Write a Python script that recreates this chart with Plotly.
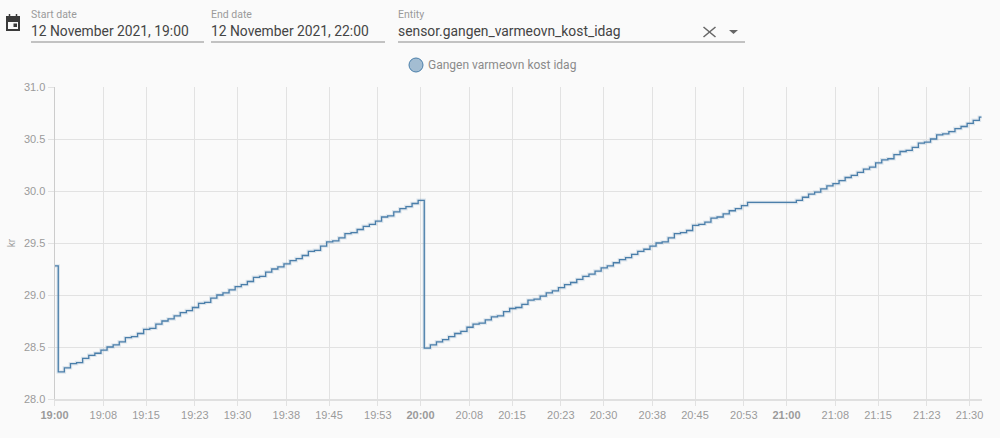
import pandas as pd
import plotly.graph_objects as go


WIDTH = 1000
HEIGHT = 438

# meter readings, one per minute from 19:00:37
VALUES = [
    28.26, 28.30, 28.34, 28.35, 28.39, 28.42, 28.44, 28.47, 28.50, 28.52,
    28.55, 28.59, 28.60, 28.63, 28.67, 28.68, 28.72, 28.75, 28.77, 28.80,
    28.83, 28.85, 28.88, 28.92, 28.93, 28.97, 29.00, 29.02, 29.05, 29.08,
    29.10, 29.13, 29.17, 29.18, 29.22, 29.25, 29.27, 29.30, 29.33, 29.35,
    29.38, 29.42, 29.43, 29.47, 29.51, 29.52, 29.55, 29.59, 29.60, 29.63,
    29.66, 29.68, 29.71, 29.75, 29.76, 29.80, 29.83, 29.85, 29.88, 29.91,
    28.49, 28.52, 28.55, 28.57, 28.60, 28.63, 28.65, 28.69, 28.72, 28.73,
    28.76, 28.79, 28.80, 28.84, 28.87, 28.88, 28.91, 28.95, 28.96, 28.99,
    29.02, 29.04, 29.07, 29.10, 29.12, 29.15, 29.18, 29.20, 29.23, 29.26,
    29.28, 29.31, 29.34, 29.36, 29.39, 29.42, 29.44, 29.47, 29.50, 29.51,
    29.55, 29.59, 29.60, 29.62, 29.67, 29.68, 29.70, 29.74, 29.75, 29.78,
    29.81, 29.83, 29.86, 29.89, 29.89, 29.89, 29.89, 29.89, 29.89, 29.89,
    29.89, 29.91, 29.94, 29.97, 29.99, 30.02, 30.05, 30.07, 30.10, 30.13,
    30.15, 30.18, 30.21, 30.23, 30.27, 30.30, 30.31, 30.35, 30.38, 30.39,
    30.42, 30.46, 30.47, 30.50, 30.54, 30.55, 30.57, 30.60, 30.62, 30.65,
    30.68, 30.71,
]
FIRST_VALUE = 29.28
FIRST_TIME = "2021-11-12 19:00:00"
STEP_START = "2021-11-12 19:00:37"
END_TIME = "2021-11-12 21:32:00"

TICK_LABELS = [
    "19:00", "19:08", "19:15", "19:23", "19:30", "19:38", "19:45", "19:53",
    "20:00", "20:08", "20:15", "20:23", "20:30", "20:38", "20:45", "20:53",
    "21:00", "21:08", "21:15", "21:23", "21:30",
]
Y_TICKS = [28.0, 28.5, 29.0, 29.5, 30.0, 30.5, 31.0]

LINE_COLOR = "#4b7faa"
HALO_COLOR = "rgba(75,127,170,0.16)"
GRID_COLOR = "#e2e2e2"
TICK_FONT_COLOR = "#9a9a9a"
BG_COLOR = "#fafafa"


def px(x):
    return x / WIDTH


def py(y):
    return 1 - y / HEIGHT


def label(fig, text, x, y, size, color, font="Roboto"):
    fig.add_annotation(
        x=px(x - 1),
        y=py(y),
        xref="paper",
        yref="paper",
        xanchor="left",
        yanchor="middle",
        text=text,
        showarrow=False,
        borderpad=0,
        font=dict(family=font, size=size, color=color),
    )


def hline(fig, x0, x1, y, color, width=1):
    fig.add_shape(
        type="line",
        xref="paper",
        yref="paper",
        x0=px(x0),
        x1=px(x1),
        y0=py(y),
        y1=py(y),
        line=dict(color=color, width=width),
    )


def draw_path(points, close=False):
    path = "M " + " L ".join(f"{px(x)} {py(y)}" for x, y in points)
    return path + (" Z" if close else "")


times = list(pd.date_range(STEP_START, periods=len(VALUES), freq="min"))
line_x = [pd.Timestamp(FIRST_TIME)] + times + [pd.Timestamp(END_TIME)]
line_y = [FIRST_VALUE] + VALUES + [VALUES[-1]]

fig = go.Figure()

# soft edge round the line
fig.add_trace(
    go.Scatter(
        x=line_x,
        y=line_y,
        mode="lines",
        line=dict(color=HALO_COLOR, width=3.5, shape="hv"),
        hoverinfo="skip",
        showlegend=False,
    )
)

fig.add_trace(
    go.Scatter(
        x=line_x,
        y=line_y,
        mode="lines",
        line=dict(color=LINE_COLOR, width=1.3, shape="hv"),
        name="Gangen varmeovn kost idag",
        showlegend=False,
    )
)

fig.update_layout(
    width=WIDTH,
    height=HEIGHT,
    margin=dict(l=0, r=0, t=0, b=0),
    paper_bgcolor=BG_COLOR,
    plot_bgcolor=BG_COLOR,
    xaxis=dict(
        automargin=False,
        domain=[px(54.5), px(981.7)],
        range=[FIRST_TIME, END_TIME],
        tickvals=[f"2021-11-12 {t}:00" for t in TICK_LABELS],
        ticktext=[
            f"<b>{t}</b>" if t.endswith(":00") else t
            for t in TICK_LABELS
        ],
        tickangle=0,
        ticks="outside",
        ticklen=5,
        tickcolor=GRID_COLOR,
        gridcolor=GRID_COLOR,
        showline=True,
        linecolor="#e0e0e0",
        linewidth=2,
        tickfont=dict(family="Liberation Sans", size=11, color=TICK_FONT_COLOR),
    ),
    yaxis=dict(
        automargin=False,
        domain=[py(399), py(87)],
        range=[28, 31],
        tickvals=Y_TICKS,
        tickformat=".1f",
        ticks="outside",
        ticklen=6,
        tickcolor=GRID_COLOR,
        gridcolor=GRID_COLOR,
        showline=True,
        linecolor="#cccccc",
        tickfont=dict(family="Liberation Sans", size=11, color=TICK_FONT_COLOR),
        title=dict(
            text="kr",
            standoff=6,
            font=dict(family="Liberation Sans", size=10, color=TICK_FONT_COLOR),
        ),
    ),
)

# date pickers and entity box above the chart
label(fig, "Start date", 31, 14, 10.5, "#9a9a9a")
label(fig, "12 November 2021, 19:00", 31, 31, 13.85, "#444444")
hline(fig, 31, 204, 42, "#8a8a8a")

label(fig, "End date", 211, 14, 10.5, "#9a9a9a")
label(fig, "12 November 2021, 22:00", 211, 31, 13.85, "#444444")
hline(fig, 211, 385, 42, "#8a8a8a")

label(fig, "Entity", 398, 14, 10.5, "#9a9a9a")
label(fig, "sensor.gangen_varmeovn_kost_idag", 398, 31, 13.85, "#444444")
hline(fig, 398, 745, 42, "#8a8a8a")

# clear button
for y0, y1 in [(27, 37), (37, 27)]:
    fig.add_shape(
        type="line",
        xref="paper",
        yref="paper",
        x0=px(703.5),
        x1=px(715.5),
        y0=py(y0),
        y1=py(y1),
        line=dict(color="#666666", width=1.5),
    )

# dropdown arrow
fig.add_shape(
    type="path",
    xref="paper",
    yref="paper",
    path=draw_path([(729, 30), (738, 30), (733.5, 34)], close=True),
    fillcolor="#666666",
    line=dict(width=0),
)

# calendar icon
fig.add_shape(
    type="path",
    xref="paper",
    yref="paper",
    path=draw_path([(7, 17), (19, 17), (19, 30), (7, 30)], close=True),
    line=dict(color="#3a3a3a", width=2),
)
hline(fig, 6, 20, 20, "#3a3a3a", width=4)
for x in [9.5, 16.5]:
    fig.add_shape(
        type="line",
        xref="paper",
        yref="paper",
        x0=px(x),
        x1=px(x),
        y0=py(14),
        y1=py(17),
        line=dict(color="#3a3a3a", width=1.5),
    )
fig.add_shape(
    type="rect",
    xref="paper",
    yref="paper",
    x0=px(13.5),
    x1=px(17),
    y0=py(23.5),
    y1=py(27),
    fillcolor="#3a3a3a",
    line=dict(width=0),
)

# legend entry
fig.add_shape(
    type="circle",
    xref="paper",
    yref="paper",
    x0=px(409),
    x1=px(423),
    y0=py(58),
    y1=py(72),
    fillcolor="rgba(75,127,170,0.5)",
    line=dict(color=LINE_COLOR, width=1),
)
label(fig, "Gangen varmeovn kost idag", 428, 65, 12, "#8a8a8a")

fig.write_html(
    "out.html",
    config=dict(displayModeBar=False),
    post_script="document.body.style.margin='0';",
)
